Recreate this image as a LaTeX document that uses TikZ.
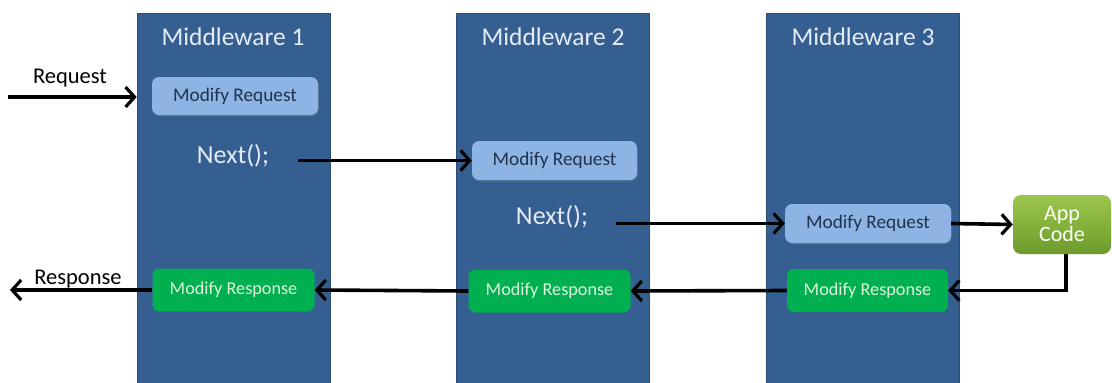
\documentclass[tikz,border=0pt]{standalone}
\usepackage{fontspec}
\setmainfont{Carlito}
\usetikzlibrary{arrows.meta,shadows}
\definecolor{colblue}{HTML}{365F91}
\definecolor{reqfill}{HTML}{8DB4E2}
\definecolor{reqtext}{HTML}{1F3350}
\definecolor{respfill}{HTML}{00B050}
\definecolor{resptext}{HTML}{DDF5DD}
\definecolor{apptop}{HTML}{9BC84A}
\definecolor{appbot}{HTML}{6E9A2E}
\definecolor{titletext}{HTML}{E4ECF6}
\tikzset{
  column/.style={fill=colblue, draw=colblue!80!black, line width=0.6pt, minimum width=193pt, minimum height=372pt, anchor=north, inner sep=0pt},
  title/.style={text=titletext, font=\fontsize{25.5}{29}\selectfont},
  nexttext/.style={text=titletext, font=\fontsize{26}{30}\selectfont},
  reqbox/.style={fill=reqfill, rounded corners=7pt, minimum width=166pt, minimum height=38pt, text=reqtext, font=\fontsize{19.3}{22}\selectfont, inner sep=0pt, drop shadow={shadow xshift=1pt, shadow yshift=-1.5pt, opacity=0.35}},
  respbox/.style={fill=respfill, rounded corners=7pt, minimum width=162pt, minimum height=43pt, text=resptext, font=\fontsize{18.2}{21}\selectfont, inner sep=0pt},
  appbox/.style={top color=apptop, bottom color=appbot, rounded corners=8pt, minimum width=98pt, minimum height=59pt, text=white, font=\fontsize{22}{24}\selectfont, align=center, inner sep=0pt},
  label/.style={text=black, font=\fontsize{22.5}{26}\selectfont},
  arr/.style={line width=3.6pt, -{Straight Barb[length=9pt,width=20pt,line width=3.2pt]}},
}
\begin{document}
\begin{tikzpicture}[x=1pt,y=-1pt]
\useasboundingbox (0,0) rectangle (1112,383);
% columns
\node[column] (c1) at (233.5,13) {};
\node[column] (c2) at (553,13) {};
\node[column] (c3) at (863,13) {};
\node[title] (t1) at (233,37) {Middleware 1};
\node[title] (t2) at (553,37) {Middleware 2};
\node[title] (t3) at (863,37) {Middleware 3};
% request boxes
\node[reqbox] (mq1) at (235,96) {Modify Request};
\node[reqbox, minimum width=165pt, minimum height=39pt] (mq2) at (554.5,160.5) {Modify Request};
\node[reqbox, minimum width=166pt, minimum height=39pt] (mq3) at (868,223.5) {Modify Request};
\node[nexttext] (n1) at (233,156) {Next();};
\node[nexttext] (n2) at (552,217) {Next();};
% app code
\node[appbox] (app) at (1062,224.5) {App\\[-3pt]Code};
% response boxes
\node[respbox] (rs1) at (233.5,290) {Modify Response};
\node[respbox] (rs2) at (549.5,291) {Modify Response};
\node[respbox, minimum width=161pt] (rs3) at (867.5,290.5) {Modify Response};
% labels
\node[label] (lreq) at (70,78) {Request};
\node[label] (lresp) at (78,279) {Response};
\coordinate (reqin) at (8,97);
\coordinate (respout) at (10,290);
% connectors
\draw[arr] (reqin) -- (reqin -| c1.west);
\draw[arr] ([xshift=25pt]n1.east |- mq2.west) -- (mq2.west);
\draw[arr] ([xshift=24pt]n2.east |- mq3.west) -- (mq3.west);
\draw[arr] (mq3.east) -- (app.west);
\draw[arr] ([xshift=4pt]app.south) |- (rs3.east);
\draw[arr] (rs3.west) -- (rs2.east);
\draw[arr] (rs2.west) -- (rs1.east);
\draw[arr] (rs1.west) -- (respout);
\end{tikzpicture}
\end{document}
